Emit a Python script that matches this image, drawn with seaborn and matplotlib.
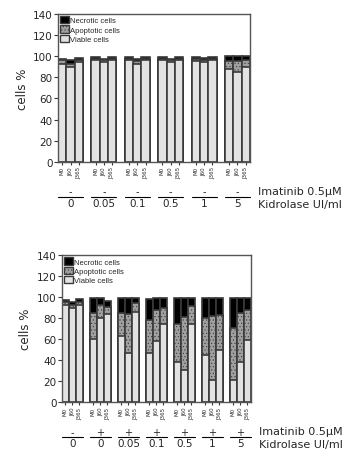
import numpy as np
import pandas as pd
import matplotlib
matplotlib.use("Agg")
import matplotlib.pyplot as plt
import seaborn as sns
from matplotlib.patches import Patch

# Data (percent of cells), per condition: M0, J60, J365
days = ["M0", "J60", "J365"]

top_viable = [93, 90, 94, 96, 94.5, 96.5, 96, 93, 96, 96, 94.5, 96.5, 95, 94, 96, 87.5, 85, 89.5]
top_apoptotic = [3, 3, 2, 1.5, 1.5, 1, 1.5, 2, 1.5, 1.5, 1.5, 1, 2.5, 2, 1.5, 7.5, 10, 6.5]
top_necrotic = [1.5, 3, 2, 2, 1.5, 1.5, 2, 2, 1.5, 2, 1.5, 2, 2, 2, 2, 5, 5, 4]
top_imatinib = ["-", "-", "-", "-", "-", "-"]
top_kidrolase = ["0", "0.05", "0.1", "0.5", "1", "5"]

bot_viable = [93, 90, 93, 60, 80, 84, 63, 47, 86, 47, 58, 74, 38, 31, 74, 44.5, 21.5, 50, 21.5, 38, 59]
bot_apoptotic = [2.5, 2.5, 2.5, 25, 13, 6.5, 22, 37, 8, 31, 29.5, 16, 36, 50, 17.5, 35.5, 60.5, 33, 49.5, 47, 28.5]
bot_necrotic = [2, 2.5, 2.5, 14, 6, 5.5, 14, 15, 5, 20.5, 11.5, 9.5, 25, 18, 7.5, 19.5, 17.5, 16.5, 28, 14, 11.5]
bot_imatinib = ["-", "+", "+", "+", "+", "+", "+"]
bot_kidrolase = ["0", "0", "0.05", "0.1", "0.5", "1", "5"]

sns.set_style("ticks")
plt.rcParams["font.family"] = ["DejaVu Sans"]
plt.rcParams["hatch.linewidth"] = 0.4

edge = "#3a3a3a"
c_nec, c_apo, c_via = "#000000", "#a0a0a0", "#e2e2e2"

fig = plt.figure(figsize=(3.54, 4.64), dpi=100)
ax1 = fig.add_axes([0.164, 0.649, 0.542, 0.319])
ax2 = fig.add_axes([0.175, 0.131, 0.534, 0.317])


def draw(ax, viable, apoptotic, necrotic, imatinib, kidrolase):
    n = len(kidrolase)
    df = pd.DataFrame({
        "pos": [g * 4 + b for g in range(n) for b in range(3)],
        "day": days * n,
        "viable": viable,
        "apoptotic": apoptotic,
        "necrotic": necrotic,
    })
    df["mid"] = df["viable"] + df["apoptotic"]
    df["total"] = df["mid"] + df["necrotic"]

    sns.barplot(data=df, x="pos", y="total", native_scale=True, width=1,
                color=c_nec, edgecolor=edge, linewidth=1.2, errorbar=None,
                saturation=1, ax=ax)
    sns.barplot(data=df, x="pos", y="mid", native_scale=True, width=1,
                color=c_apo, edgecolor=edge, linewidth=1.2, errorbar=None,
                saturation=1, hatch=".....", ax=ax)
    sns.barplot(data=df, x="pos", y="viable", native_scale=True, width=1,
                color=c_via, edgecolor=edge, linewidth=1.2, errorbar=None,
                saturation=1, ax=ax)

    ax.set_xlim(-0.5, n * 4 - 1.5)
    ax.set_ylim(0, 140)
    ax.set_yticks(range(0, 141, 20))
    ax.set_xticks(df["pos"])
    ax.set_xticklabels(df["day"], rotation=90, fontsize=4)
    ax.tick_params(axis="x", length=2, width=0.8, pad=1, color=edge)
    ax.tick_params(axis="y", length=3, width=0.8, pad=1, labelsize=7.5, color=edge)
    ax.set_xlabel("")
    ax.set_ylabel("cells %", fontsize=8.5, labelpad=3)
    for s in ax.spines.values():
        s.set_visible(True)
        s.set_color("#555555")
        s.set_linewidth(1)

    tr = ax.get_xaxis_transform()
    for g in range(n):
        cx = g * 4 + 1
        ax.text(cx, -0.2, imatinib[g], transform=tr, ha="center", va="center", fontsize=7)
        ax.plot([cx - 1.5, cx + 1.5], [-0.237, -0.237], transform=tr, color="black",
                lw=0.8, clip_on=False)
        ax.text(cx, -0.278, kidrolase[g], transform=tr, ha="center", va="center", fontsize=7.5)
    ax.text(1.04, -0.197, "Imatinib 0.5\u00b5M", transform=ax.transAxes, ha="left",
            va="center", fontsize=8)
    ax.text(1.04, -0.282, "Kidrolase UI/ml", transform=ax.transAxes, ha="left",
            va="center", fontsize=8)

    handles = [
        Patch(facecolor=c_nec, edgecolor=edge, label="Necrotic cells"),
        Patch(facecolor=c_apo, edgecolor=edge, hatch=".....", label="Apoptotic cells"),
        Patch(facecolor=c_via, edgecolor=edge, label="Viable cells"),
    ]
    ax.legend(handles=handles, loc="upper left", frameon=False,
              prop={"family": "Liberation Sans", "size": 5.5},
              handlelength=1.1, handleheight=1.1, handletextpad=0.2,
              labelspacing=0.12, borderpad=0.2, borderaxespad=0.1)


draw(ax1, top_viable, top_apoptotic, top_necrotic, top_imatinib, top_kidrolase)
draw(ax2, bot_viable, bot_apoptotic, bot_necrotic, bot_imatinib, bot_kidrolase)

fig.savefig("out.png", dpi=100)
